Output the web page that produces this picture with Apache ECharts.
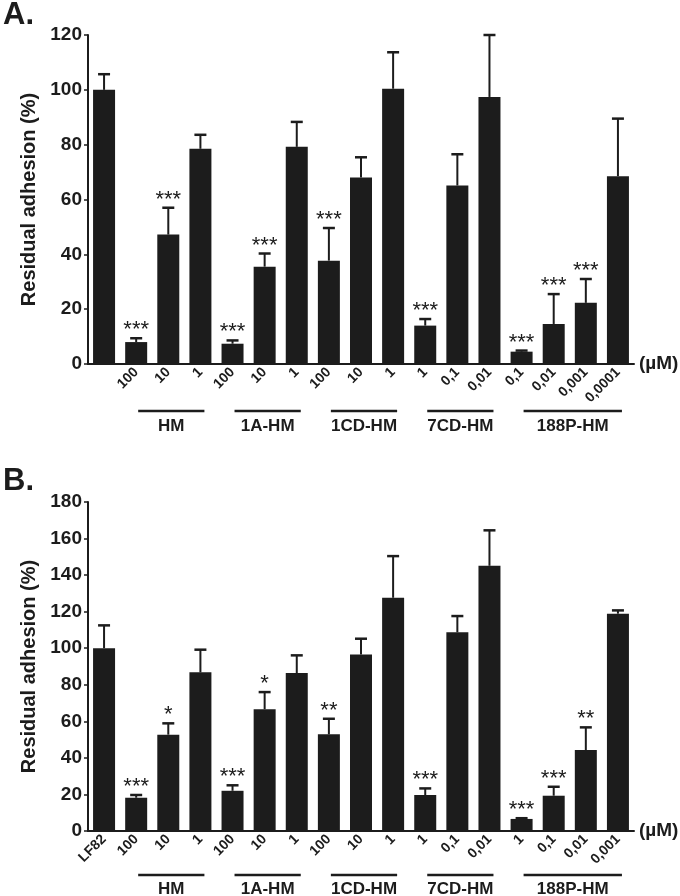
<!DOCTYPE html>
<html>
<head>
<meta charset="utf-8">
<script src="https://cdn.jsdelivr.net/npm/echarts@6/dist/echarts.min.js"></script>
<style>
  html, body { margin: 0; padding: 0; background: #fff; }
  #main { width: 680px; height: 896px; }
</style>
</head>
<body>
<div id="main"></div>
<script>
    var ink = '#1c1c1c';
    var font = 'Liberation Sans';

    // panel A
    var categoriesA = ['', '100', '10', '1', '100', '10', '1', '100', '10', '1', '1', '0,1', '0,01', '0,1', '0,01', '0,001', '0,0001'];
    var meanA = [100, 8.0, 47.2, 78.5, 7.4, 35.5, 79.2, 37.7, 68, 100.4, 14, 65.1, 97.4, 4.5, 14.6, 22.3, 68.5];
    var semA = [5.7, 1.4, 9.8, 5.1, 1.2, 4.8, 9.1, 11.9, 7.4, 13.3, 2.4, 11.4, 22.6, 0.4, 10.9, 8.7, 21];
    var sigA = ['', '***', '***', '', '***', '***', '', '***', '', '', '***', '', '', '***', '***', '***', ''];
    var ticksA = [0, 120, 20];

    // panel B
    var categoriesB = ['LF82', '100', '10', '1', '100', '10', '1', '100', '10', '1', '1', '0,1', '0,01', '1', '0,1', '0,01', '0,001'];
    var meanB = [100, 18.2, 52.7, 86.8, 22, 66.6, 86.4, 52.9, 96.6, 127.6, 19.7, 108.7, 145.1, 6.6, 19.3, 44.3, 118.9];
    var semB = [12.5, 1.5, 6.2, 12.4, 3, 9.4, 9.7, 8.5, 8.6, 22.8, 3.6, 8.9, 19.4, 0.4, 4.9, 12.4, 1.8];
    var sigB = ['', '***', '*', '', '***', '*', '', '**', '', '', '***', '', '', '***', '***', '**', ''];
    var ticksB = [0, 180, 20];

    // compound groups under the axis (first / last category index)
    var groupNames = ['HM', '1A-HM', '1CD-HM', '7CD-HM', '188P-HM'];
    var groupStart = [1, 4, 7, 10, 13];
    var groupEnd = [3, 6, 9, 12, 16];

    var makeErrRender = function (sig) {
        return function (params, api) {
            var i = api.value(0);
            var base = api.coord([i, api.value(1)]);
            var top = api.coord([i, api.value(2)]);
            var children = [{
                type: 'line',
                shape: { x1: base[0], y1: base[1], x2: top[0], y2: top[1] },
                style: { stroke: ink, lineWidth: 2 }
            }, {
                type: 'line',
                shape: { x1: top[0] - 6, y1: top[1], x2: top[0] + 6, y2: top[1] },
                style: { stroke: ink, lineWidth: 2.5 }
            }];
            if (sig[params.dataIndex]) {
                children.push({
                    type: 'text',
                    style: {
                        text: sig[params.dataIndex],
                        x: top[0], y: top[1] + 3,
                        align: 'center', verticalAlign: 'bottom',
                        font: '22px ' + font, fill: ink
                    }
                });
            }
            return { type: 'group', children: children };
        };
    };

    // line + name under each compound, offsets below the x axis
    var makeGroupRender = function (lineGap, textGap) {
        return function (params, api) {
            var p1 = api.coord([api.value(0), 0]);
            var p2 = api.coord([api.value(1), 0]);
            var y = p1[1] + lineGap;
            return {
                type: 'group',
                children: [{
                    type: 'line',
                    shape: { x1: p1[0] + 2, y1: y, x2: p2[0] + 4, y2: y },
                    style: { stroke: ink, lineWidth: 2.5 }
                }, {
                    type: 'text',
                    style: {
                        text: groupNames[params.dataIndex],
                        x: (p1[0] + p2[0]) / 2 + 3, y: p1[1] + textGap,
                        align: 'center', verticalAlign: 'middle',
                        font: 'bold 17px ' + font, fill: ink
                    }
                }]
            };
        };
    };

    var xAxisFor = function (cats, idx) {
        return {
            type: 'category',
            gridIndex: idx,
            data: cats,
            name: '(µM)',
            nameLocation: 'end',
            nameGap: 5,
            nameTextStyle: { fontFamily: font, fontWeight: 'bold', fontSize: 19, color: ink, padding: [16, 0, 0, 0] },
            axisLine: { lineStyle: { color: ink, width: 2 } },
            axisTick: { alignWithLabel: true, length: 5, lineStyle: { color: ink, width: 1.5 } },
            axisLabel: { interval: 0, rotate: 45, margin: 6, fontFamily: font, fontWeight: 'bold', fontSize: 14, color: ink }
        };
    };

    var yAxisFor = function (ticks, idx) {
        return {
            type: 'value',
            gridIndex: idx,
            min: ticks[0], max: ticks[1], interval: ticks[2],
            name: 'Residual adhesion (%)',
            nameLocation: 'middle',
            nameGap: 43,
            nameTextStyle: { fontFamily: font, fontWeight: 'bold', fontSize: 20, color: ink },
            splitLine: { show: false },
            axisLine: { show: true, lineStyle: { color: ink, width: 2 } },
            axisTick: { show: true, length: 4, lineStyle: { color: ink, width: 1.5 } },
            axisLabel: { margin: 6, fontFamily: font, fontWeight: 'bold', fontSize: 19, color: ink }
        };
    };

    var seriesFor = function (mean, sem, sig, idx, lineGap, textGap) {
        var errData = mean.map(function (m, i) { return [i, m, m + sem[i]]; });
        var groupData = groupStart.map(function (s, i) { return [s, groupEnd[i]]; });
        return [{
            type: 'bar',
            xAxisIndex: idx, yAxisIndex: idx,
            data: mean,
            barWidth: 22,
            itemStyle: { color: ink },
            z: 2
        }, {
            type: 'custom',
            xAxisIndex: idx, yAxisIndex: idx,
            data: errData,
            encode: { x: 0, y: 2 },
            renderItem: makeErrRender(sig),
            z: 3
        }, {
            type: 'custom',
            xAxisIndex: idx, yAxisIndex: idx,
            data: groupData,
            encode: { x: [0, 1] },
            clip: false,
            silent: true,
            renderItem: makeGroupRender(lineGap, textGap)
        }];
    };

    var chart = echarts.init(document.getElementById('main'));
    chart.setOption({
        animation: false,
        backgroundColor: '#fff',
        title: [{
            text: 'A.', left: -2, top: -5,
            textStyle: { fontFamily: font, fontWeight: 'bold', fontSize: 31, color: ink }
        }, {
            text: 'B.', left: -2, top: 461,
            textStyle: { fontFamily: font, fontWeight: 'bold', fontSize: 31, color: ink }
        }],
        grid: [
            { left: 88, top: 35, width: 546, height: 329 },
            { left: 88, top: 502, width: 546, height: 329 }
        ],
        xAxis: [xAxisFor(categoriesA, 0), xAxisFor(categoriesB, 1)],
        yAxis: [yAxisFor(ticksA, 0), yAxisFor(ticksB, 1)],
        series: seriesFor(meanA, semA, sigA, 0, 47, 62).concat(seriesFor(meanB, semB, sigB, 1, 44, 58))
    });
</script>
</body>
</html>
